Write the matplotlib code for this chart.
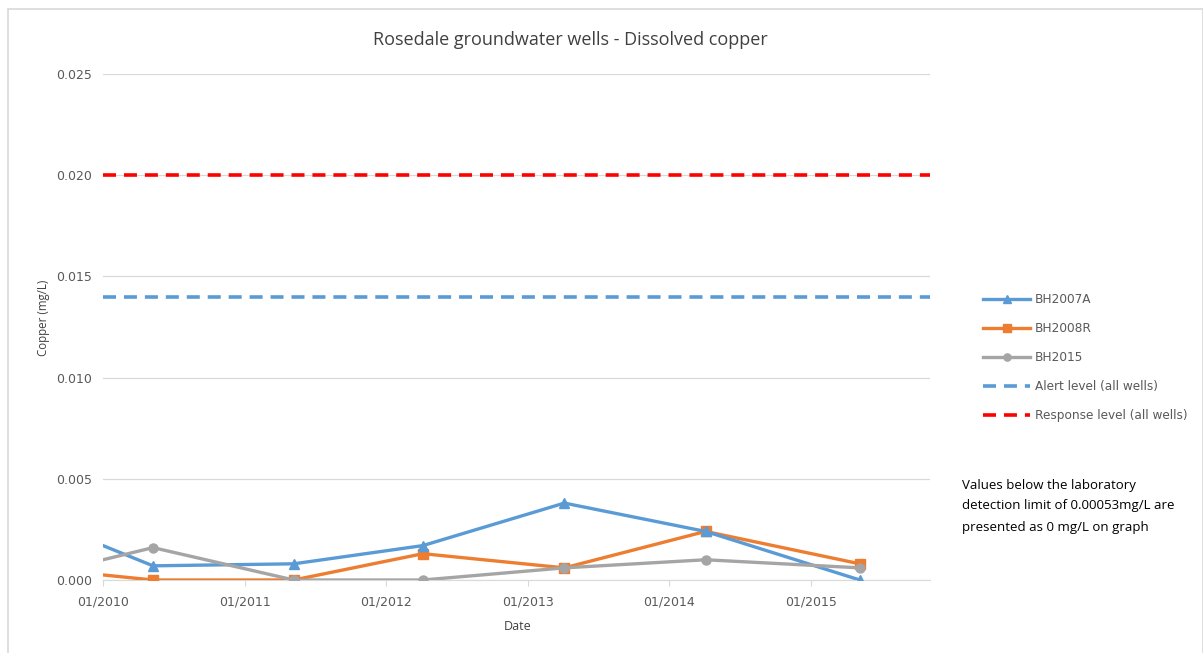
import matplotlib.pyplot as plt
import matplotlib.dates as mdates
from matplotlib.patches import Rectangle
from datetime import datetime

# sampling dates (first row sits on the left edge of the date axis)
dates = ["2010-01-01", "2010-05-10", "2011-05-08", "2012-04-05",
         "2013-04-05", "2014-04-04", "2015-05-07"]
bh2007a = [0.0017, 0.0007, 0.0008, 0.0017, 0.0038, 0.0024, 0.0]
bh2008r = [0.00025, 0.0, 0.0, 0.0013, 0.0006, 0.0024, 0.0008]
bh2015 = [0.001, 0.0016, 0.0, 0.0, 0.0006, 0.001, 0.0006]
alert_level = 0.014
response_level = 0.020
x_start, x_end = "2010-01-01", "2015-11-04"
y_ticks = [0.0, 0.005, 0.010, 0.015, 0.020, 0.025]

d = [datetime.strptime(s, "%Y-%m-%d") for s in dates]
x0 = datetime.strptime(x_start, "%Y-%m-%d")
x1 = datetime.strptime(x_end, "%Y-%m-%d")

W, H = 1203, 653
fig = plt.figure(figsize=(W / 100, H / 100), dpi=100)
ax = fig.add_axes([103 / W, 1 - 580 / H, (930 - 103) / W, (580 - 74) / H])

# chart frame
fig.patches.append(Rectangle((8 / W, -0.01), (W - 8) / W, 1 - 9 / H + 0.01,
                             transform=fig.transFigure, fill=False,
                             edgecolor="#d9d9d9", linewidth=1.2))

blue, orange, grey, red = "#5b9bd5", "#ed7d31", "#a5a5a5", "#ff0000"
mk = list(range(1, len(d)))
ax.plot(d, bh2007a, color=blue, lw=2.4, marker="^", ms=7, markevery=mk,
        label="BH2007A", zorder=4)
ax.plot(d, bh2008r, color=orange, lw=2.4, marker="s", ms=6.5, markevery=mk,
        label="BH2008R", zorder=3)
ax.plot(d, bh2015, color=grey, lw=2.4, marker="o", ms=6.5, markevery=mk,
        label="BH2015", zorder=5)
ax.plot([x0, x1], [alert_level] * 2, color=blue, lw=2.6,
        dashes=(3.6, 2.2), label="Alert level (all wells)")
ax.plot([x0, x1], [response_level] * 2, color=red, lw=2.6,
        dashes=(3.6, 2.2), label="Response level (all wells)")

ax.set_xlim(x0, x1)
ax.set_ylim(0, 0.025)
ax.set_yticks(y_ticks)
ax.set_yticklabels(["%.3f" % v for v in y_ticks])
ax.xaxis.set_major_locator(mdates.YearLocator())
ax.xaxis.set_major_formatter(mdates.DateFormatter("%m/%Y"))

ax.grid(axis="y", color="#d9d9d9", lw=0.9)
ax.set_axisbelow(True)
for s in ["top", "right", "left"]:
    ax.spines[s].set_visible(False)
ax.spines["bottom"].set_color("#d9d9d9")
ax.tick_params(axis="y", length=0, pad=8, labelsize=9, labelcolor="#595959")
ax.tick_params(axis="x", length=4, color="#d9d9d9", pad=7, labelsize=9,
               labelcolor="#595959")

fig.text(570 / W, 1 - 40 / H, "Rosedale groundwater wells - Dissolved copper",
         ha="center", va="center", fontsize=13, family="Open Sans",
         color="#404040")
fig.text(43 / W, 1 - 318 / H, "Copper (mg/L)", rotation=90, ha="center",
         va="center", fontsize=8.3, family="Open Sans", color="#404040")
fig.text(518 / W, 1 - 627 / H, "Date", ha="center", va="center",
         fontsize=9, family="Open Sans", color="#404040")

fig.legend(loc="upper left", bbox_to_anchor=(983 / W, 1 - 293 / H),
           frameon=False, fontsize=8.7, handlelength=3.9, handletextpad=0.4,
           labelspacing=1.33, borderpad=0, borderaxespad=0, markerscale=0.8,
           labelcolor="#595959")

fig.text(962 / W, 1 - 506 / H,
         "Values below the laboratory\ndetection limit of 0.00053mg/L are\n"
         "presented as 0 mg/L on graph",
         ha="left", va="center", fontsize=9.5, family="Open Sans",
         color="black", linespacing=1.8)

fig.savefig("out.png", dpi=100)
